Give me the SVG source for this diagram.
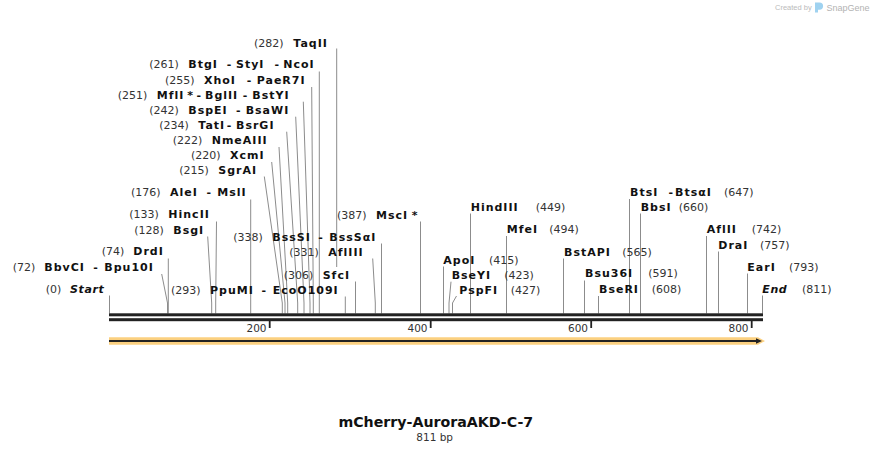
<svg xmlns="http://www.w3.org/2000/svg" width="872" height="453" viewBox="0 0 872 453">
<style>
text{font-family:"DejaVu Sans","Verdana",sans-serif;}
.n{font-size:11px;fill:#333;}
.b{font-size:11px;font-weight:bold;letter-spacing:1px;fill:#111;}
.h{font-size:11px;font-weight:bold;fill:#111;}
.bi{font-size:11px;font-weight:bold;font-style:italic;letter-spacing:0.6px;fill:#111;}
.ld{fill:none;stroke:#8c8c8c;stroke-width:1;}
.tk{font-size:10.5px;fill:#333;text-anchor:end;}
</style>
<rect width="872" height="453" fill="#fff"/>

<g id="watermark">
<text x="775" y="9.5" style="font-family:'Liberation Sans',Arial,sans-serif;font-size:7.5px;fill:#bbb">Created by</text>
<path d="M815 2.5h4.5a3.6 3.6 0 0 1 0 7.2h-1.5v2.8h-3z" fill="#9fd2f0"/>
<text x="826.5" y="10.5" style="font-family:'Liberation Sans',Arial,sans-serif;font-size:9px;fill:#b3b3b3">SnapGene</text>
</g>

<g id="connectors">
<path class="ld" d="M336.7 48.5V267"/>
<path class="ld" d="M319.3 71.5V313.5"/>
<path class="ld" d="M311.7 87L313.3 303V313.5"/>
<path class="ld" d="M303.3 101.7L310 303V313.5"/>
<path class="ld" d="M295.7 116.7L304 303V313.5"/>
<path class="ld" d="M286.7 131.7L297.7 303V313.5"/>
<path class="ld" d="M279 147L287.7 303V313.5"/>
<path class="ld" d="M271.7 162L285 303V313.5"/>
<path class="ld" d="M264.3 176.5L282.3 303V313.5"/>
<path class="ld" d="M250.7 199.5V313.5"/>
<path class="ld" d="M216.5 221.5L215.7 303V313.5"/>
<path class="ld" d="M207.7 236.5L211.7 303V313.5"/>
<path class="ld" d="M168.3 258.5V313.5"/>
<path class="ld" d="M161.7 274L167.5 303V313.5"/>
<path class="ld" d="M109.5 295.5V313.5"/>
<path class="ld" d="M345.3 296.5V313.5"/>
<path class="ld" d="M355.5 281.5V313.5"/>
<path class="ld" d="M372.7 258.5L375.3 303V313.5"/>
<path class="ld" d="M381.5 243.5V313.5"/>
<path class="ld" d="M420.5 221.5V313.5"/>
<path class="ld" d="M470.5 213.5V313.5"/>
<path class="ld" d="M506.5 236V313.5"/>
<path class="ld" d="M443.5 266.5V313.5"/>
<path class="ld" d="M451 281.7L449 303V313.5"/>
<path class="ld" d="M456.5 296L452.5 303V313.5"/>
<path class="ld" d="M563.5 258.5V313.5"/>
<path class="ld" d="M584.5 280.5V313.5"/>
<path class="ld" d="M598.5 296V313.5"/>
<path class="ld" d="M629.5 199V313.5"/>
<path class="ld" d="M640.5 213.5V313.5"/>
<path class="ld" d="M706.5 236V313.5"/>
<path class="ld" d="M718.5 251.5V313.5"/>
<path class="ld" d="M747.5 273.5V313.5"/>
<path class="ld" d="M762.5 295.5V313.5"/>
</g>

<g id="sequence">
<rect x="109" y="313.3" width="654" height="3" fill="#222"/>
<rect x="109" y="318.2" width="654" height="3" fill="#222"/>
<g id="ticks" fill="#222">
<rect x="268.8" y="321" width="1.8" height="7"/>
<rect x="429.8" y="321" width="1.8" height="7"/>
<rect x="590.3" y="321" width="1.8" height="7"/>
<rect x="750.8" y="321" width="1.8" height="7"/>
</g>
<text class="tk" x="266.5" y="331.5">200</text>
<text class="tk" x="427.5" y="331.5">400</text>
<text class="tk" x="588" y="331.5">600</text>
<text class="tk" x="748.5" y="331.5">800</text>
</g>

<g id="feature-arrow">
<polygon points="109,337.3 758,337.3 765,341 758,344.8 109,344.8" fill="#fbd080"/>
<line x1="109" y1="341" x2="757" y2="341" stroke="#222" stroke-width="2"/>
<polygon points="756,338.3 762,341 756,343.7" fill="#222"/>
</g>

<g id="site-TaqII"><text y="46.5"><tspan class="n" x="254">(282)</tspan><tspan class="b" x="293.3">TaqII</tspan></text></g>
<g id="site-BtgI"><text y="68.3"><tspan class="n" x="149.3">(261)</tspan><tspan class="b" x="188.3">BtgI</tspan><tspan class="h" x="226.8">-</tspan><tspan class="b" x="236">StyI</tspan><tspan class="h" x="274.5">-</tspan><tspan class="b" x="283.3">NcoI</tspan></text></g>
<g id="site-XhoI"><text y="84.3"><tspan class="n" x="165">(255)</tspan><tspan class="b" x="204">XhoI</tspan><tspan class="h" x="246.8">-</tspan><tspan class="b" x="256.7">PaeR7I</tspan></text></g>
<g id="site-MflI"><text y="99"><tspan class="n" x="117.7">(251)</tspan><tspan class="b" x="156.7">MflI</tspan><tspan class="b" x="187.3">*</tspan><tspan class="h" x="196.6">-</tspan><tspan class="b" x="205">BglII</tspan><tspan class="h" x="242.8">-</tspan><tspan class="b" x="252.3">BstYI</tspan></text></g>
<g id="site-BspEI"><text y="114"><tspan class="n" x="149.3">(242)</tspan><tspan class="b" x="188.3">BspEI</tspan><tspan class="h" x="236.1">-</tspan><tspan class="b" x="245.7">BsaWI</tspan></text></g>
<g id="site-TatI"><text y="129"><tspan class="n" x="159.3">(234)</tspan><tspan class="b" x="198.3">TatI</tspan><tspan class="h" x="226.8">-</tspan><tspan class="b" x="236">BsrGI</tspan></text></g>
<g id="site-NmeAIII"><text y="144.3"><tspan class="n" x="172.7">(222)</tspan><tspan class="b" x="211.7">NmeAIII</tspan></text></g>
<g id="site-XcmI"><text y="159.3"><tspan class="n" x="191">(220)</tspan><tspan class="b" x="230">XcmI</tspan></text></g>
<g id="site-SgrAI"><text y="174"><tspan class="n" x="179.3">(215)</tspan><tspan class="b" x="218.3">SgrAI</tspan></text></g>
<g id="site-AleI"><text y="196"><tspan class="n" x="131">(176)</tspan><tspan class="b" x="170">AleI</tspan><tspan class="h" x="206.6">-</tspan><tspan class="b" x="217.3">MslI</tspan></text></g>
<g id="site-HincII"><text y="218.3"><tspan class="n" x="129.3">(133)</tspan><tspan class="b" x="168.3">HincII</tspan></text></g>
<g id="site-BsgI"><text y="234"><tspan class="n" x="134.3">(128)</tspan><tspan class="b" x="173.3">BsgI</tspan></text></g>
<g id="site-DrdI"><text y="255"><tspan class="n" x="101.7">(74)</tspan><tspan class="b" x="133.3">DrdI</tspan></text></g>
<g id="site-BbvCI"><text y="270.7"><tspan class="n" x="12.7">(72)</tspan><tspan class="b" x="44.3">BbvCI</tspan><tspan class="h" x="93.3">-</tspan><tspan class="b" x="104.3">Bpu10I</tspan></text></g>
<g id="site-Start"><text y="293.3"><tspan class="n" x="45.7">(0)</tspan><tspan class="bi" x="70">Start</tspan></text></g>
<g id="site-PpuMI"><text y="294"><tspan class="n" x="171">(293)</tspan><tspan class="b" x="210">PpuMI</tspan><tspan class="h" x="261.6">-</tspan><tspan class="b" x="272.7">EcoO109I</tspan></text></g>
<g id="site-SfcI"><text y="279"><tspan class="n" x="283.7">(306)</tspan><tspan class="b" x="322.7">SfcI</tspan></text></g>
<g id="site-AflIII"><text y="256"><tspan class="n" x="289.3">(331)</tspan><tspan class="b" x="328.3">AflIII</tspan></text></g>
<g id="site-BssSI"><text y="240.7"><tspan class="n" x="233.3">(338)</tspan><tspan class="b" x="272.3">BssSI</tspan><tspan class="h" x="318.3">-</tspan><tspan class="b" x="329.3">BssSαI</tspan></text></g>
<g id="site-MscI"><text y="218.5"><tspan class="n" x="337">(387)</tspan><tspan class="b" x="376">MscI</tspan><tspan class="b" x="411.7">*</tspan></text></g>

<g id="site-HindIII"><text y="210.7"><tspan class="b" x="470.7">HindIII</tspan><tspan class="n" x="535.7">(449)</tspan></text></g>
<g id="site-MfeI"><text y="233.3"><tspan class="b" x="506.7">MfeI</tspan><tspan class="n" x="549.3">(494)</tspan></text></g>
<g id="site-ApoI"><text y="264"><tspan class="b" x="443.3">ApoI</tspan><tspan class="n" x="489">(415)</tspan></text></g>
<g id="site-BseYI"><text y="279.3"><tspan class="b" x="451.7">BseYI</tspan><tspan class="n" x="504.3">(423)</tspan></text></g>
<g id="site-PspFI"><text y="294"><tspan class="b" x="459.3">PspFI</tspan><tspan class="n" x="510.7">(427)</tspan></text></g>
<g id="site-BstAPI"><text y="255.7"><tspan class="b" x="564">BstAPI</tspan><tspan class="n" x="622.3">(565)</tspan></text></g>
<g id="site-Bsu36I"><text y="277.3"><tspan class="b" x="585">Bsu36I</tspan><tspan class="n" x="648.3">(591)</tspan></text></g>
<g id="site-BseRI"><text y="293.3"><tspan class="b" x="599">BseRI</tspan><tspan class="n" x="651.7">(608)</tspan></text></g>
<g id="site-BtsI"><text y="195.7"><tspan class="b" x="630">BtsI</tspan><tspan class="h" x="668.6">-</tspan><tspan class="b" x="675">BtsαI</tspan><tspan class="n" x="724">(647)</tspan></text></g>
<g id="site-BbsI"><text y="210.7"><tspan class="b" x="640.7">BbsI</tspan><tspan class="n" x="678.7">(660)</tspan></text></g>
<g id="site-AflII"><text y="233.3"><tspan class="b" x="706.7">AflII</tspan><tspan class="n" x="751.7">(742)</tspan></text></g>
<g id="site-DraI"><text y="249"><tspan class="b" x="718.3">DraI</tspan><tspan class="n" x="760">(757)</tspan></text></g>
<g id="site-EarI"><text y="270.7"><tspan class="b" x="747.3">EarI</tspan><tspan class="n" x="789">(793)</tspan></text></g>
<g id="site-End"><text y="293.3"><tspan class="bi" x="762.3">End</tspan><tspan class="n" x="802">(811)</tspan></text></g>

<g id="title">
<text x="435.8" y="426.7" text-anchor="middle" style="font-size:14.2px;font-weight:bold;fill:#111">mCherry-AuroraAKD-C-7</text>
<text x="434.7" y="440.5" text-anchor="middle" style="font-size:10.5px;fill:#333">811 bp</text>
</g>
</svg>
